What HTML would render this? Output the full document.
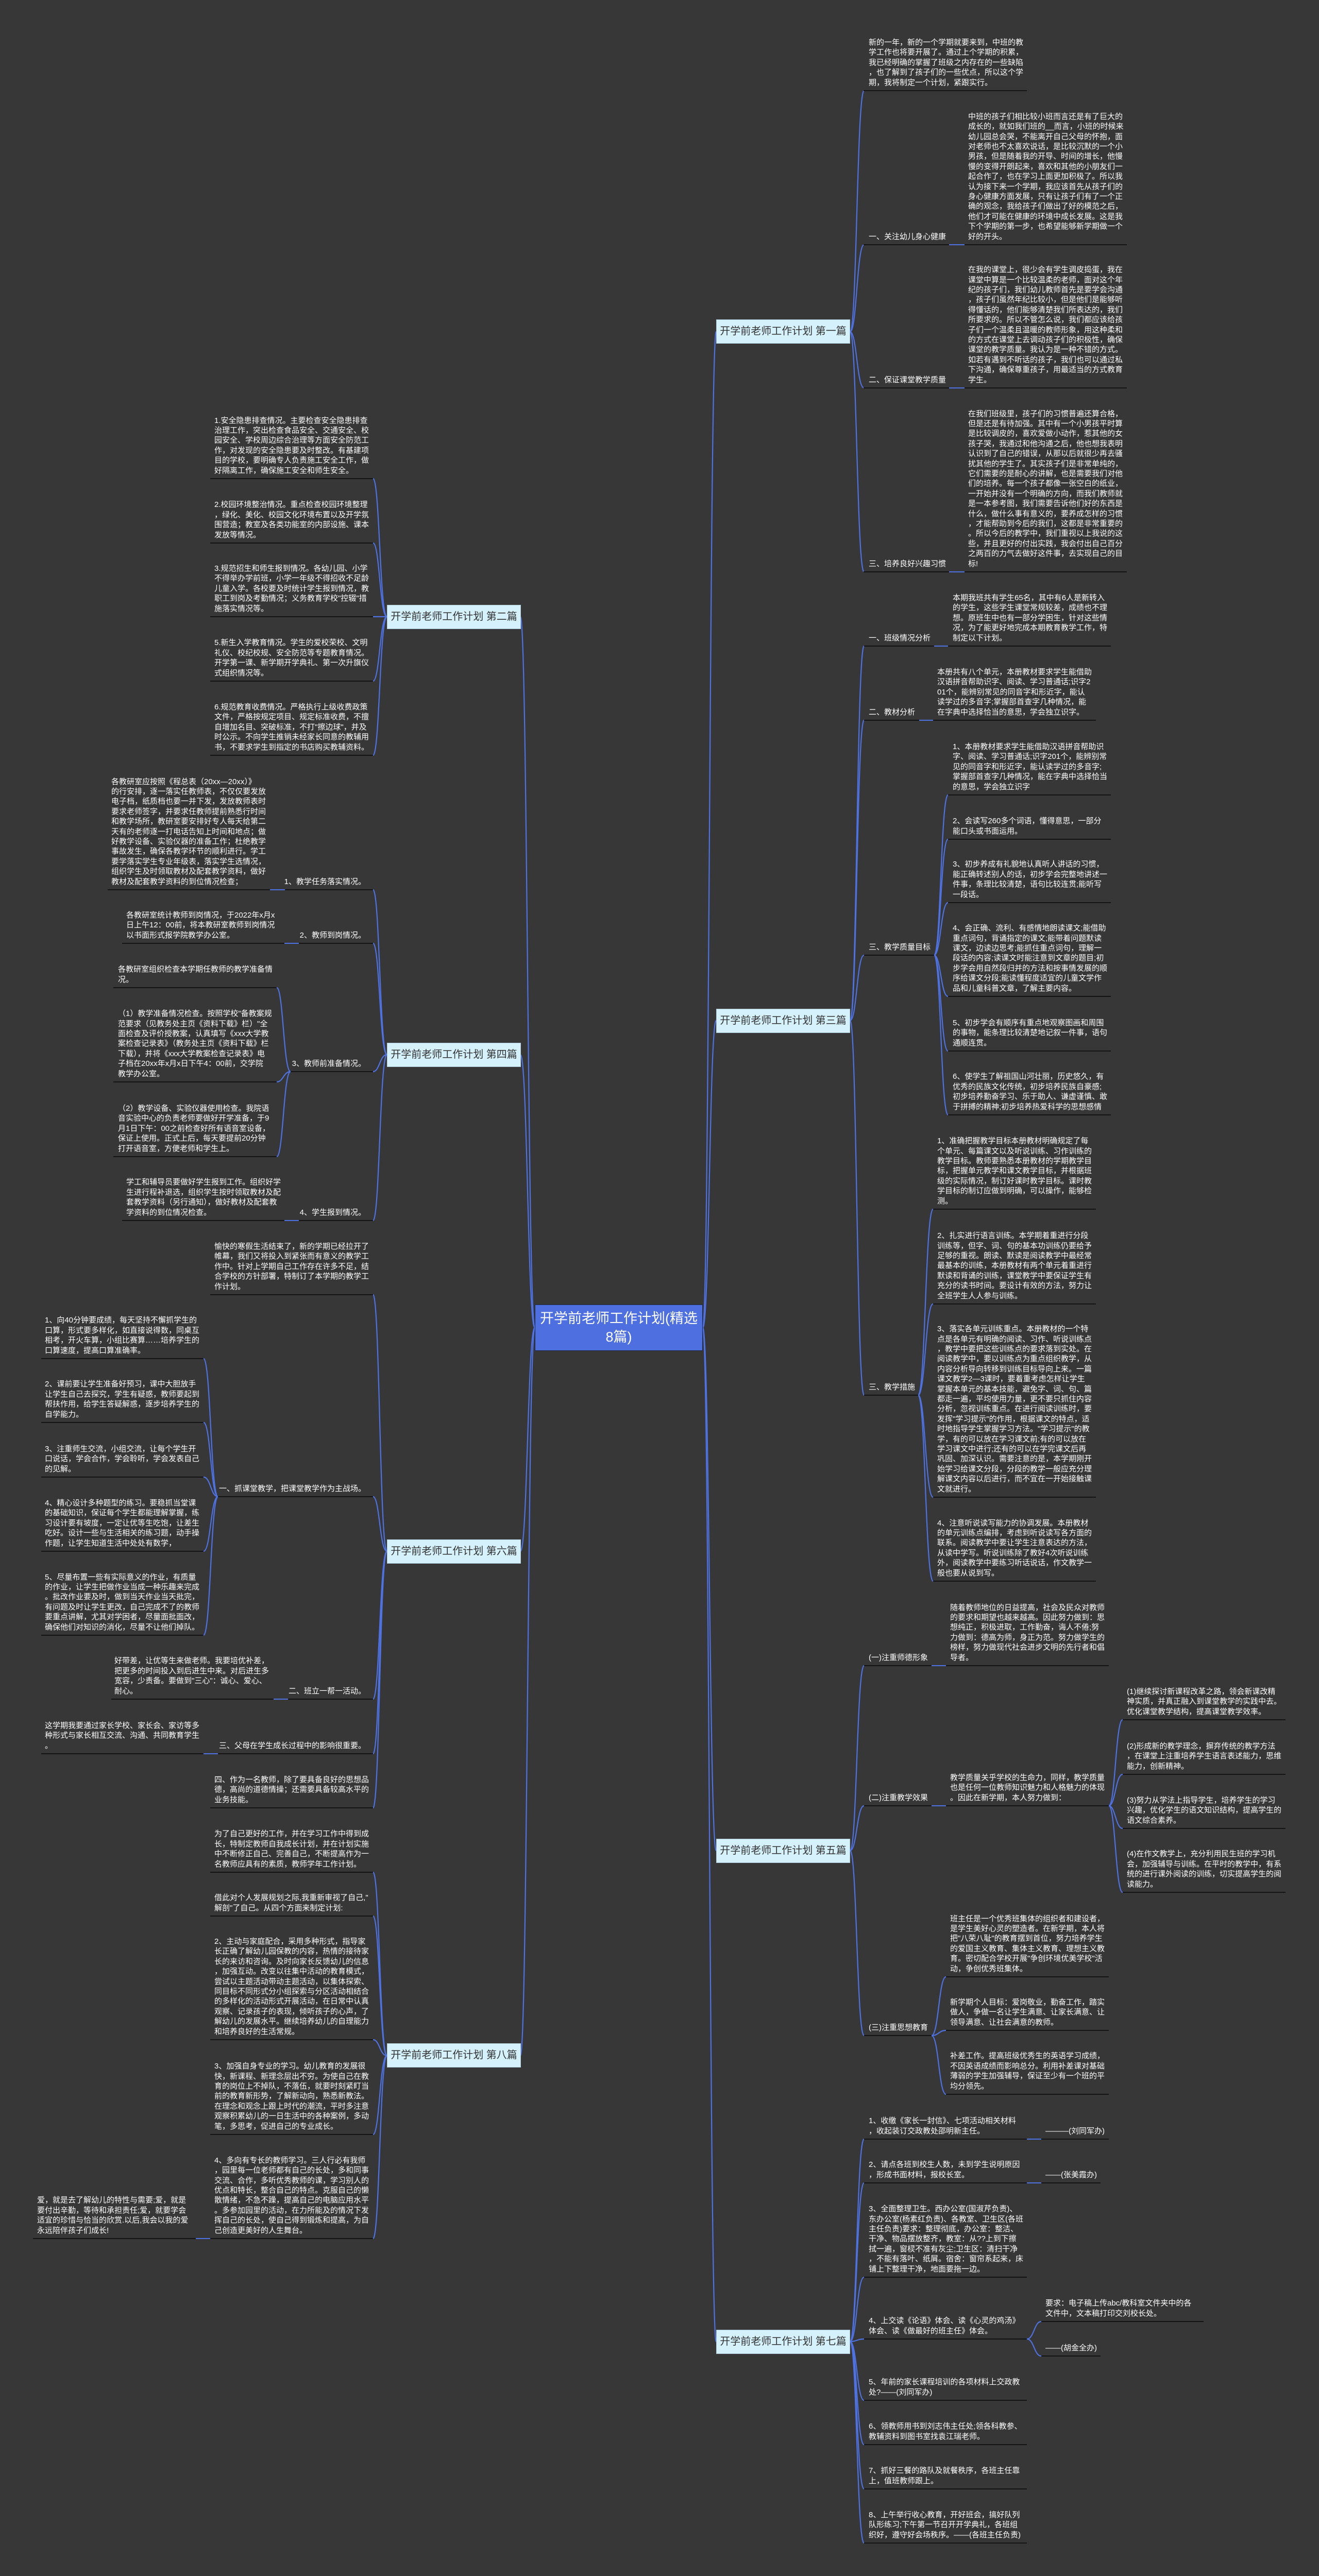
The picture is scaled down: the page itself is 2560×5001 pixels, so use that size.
<!DOCTYPE html>
<html><head><meta charset="utf-8">
<style>
*{margin:0;padding:0;box-sizing:border-box}
html{width:2560px;height:5001px;overflow:hidden}
body{width:2560px;height:5001px;background:#373737;position:relative;overflow:hidden;font-family:"Liberation Sans","Noto Sans CJK SC",sans-serif}
.t{position:absolute;color:#fff;font-size:15px;line-height:19.4px;white-space:nowrap}
.r{text-align:right}
.u{position:absolute;height:2px;background:#141414}
.b{position:absolute;height:2px;background:#4f72e3}
.box{position:absolute;background:#d4f1fc;border:1px solid #aac8d8;color:#333;font-size:20px;line-height:45px;text-align:center;white-space:nowrap;width:260px;height:47px;overflow:hidden}
.root{position:absolute;left:1038px;top:2532px;width:326px;height:90px;background:#4d6fe0;border:1px solid #1d2a50;color:#fff;font-size:27px;line-height:36px;text-align:center;padding-top:8px}
svg{position:absolute;left:0;top:0}
</style></head><body>
<svg width="2560" height="5001" fill="none" stroke="#4f72e3" stroke-width="2.2">
<path d="M1364 2577 C1377 2577 1377 644 1390 644"/>
<path d="M1364 2577 C1377 2577 1377 1981 1390 1981"/>
<path d="M1364 2577 C1377 2577 1377 3592 1390 3592"/>
<path d="M1364 2577 C1377 2577 1377 4545 1390 4545"/>
<path d="M1038 2577 C1024 2577 1024 1197 1010 1197"/>
<path d="M1038 2577 C1024 2577 1024 2047 1010 2047"/>
<path d="M1038 2577 C1024 2577 1024 3011 1010 3011"/>
<path d="M1038 2577 C1024 2577 1024 3990 1010 3990"/>
<path d="M1650 644 C1663 644 1663 176 1677 176"/>
<path d="M1650 644 C1663 644 1663 475 1677 475"/>
<path d="M1650 644 C1663 644 1663 753 1677 753"/>
<path d="M1650 644 C1663 644 1663 1110 1677 1110"/>
<path d="M1650 1981 C1663 1981 1663 1254 1677 1254"/>
<path d="M1650 1981 C1663 1981 1663 1398 1677 1398"/>
<path d="M1650 1981 C1663 1981 1663 1854 1677 1854"/>
<path d="M1650 1981 C1663 1981 1663 2708 1677 2708"/>
<path d="M1813 1854 C1826 1854 1826 1543 1840 1543"/>
<path d="M1813 1854 C1826 1854 1826 1629 1840 1629"/>
<path d="M1813 1854 C1826 1854 1826 1752 1840 1752"/>
<path d="M1813 1854 C1826 1854 1826 1934 1840 1934"/>
<path d="M1813 1854 C1826 1854 1826 2040 1840 2040"/>
<path d="M1813 1854 C1826 1854 1826 2164 1840 2164"/>
<path d="M1782 2708 C1796 2708 1796 2347 1811 2347"/>
<path d="M1782 2708 C1796 2708 1796 2531 1811 2531"/>
<path d="M1782 2708 C1796 2708 1796 2906 1811 2906"/>
<path d="M1782 2708 C1796 2708 1796 3069 1811 3069"/>
<path d="M1650 3592 C1663 3592 1663 3233 1677 3233"/>
<path d="M1650 3592 C1663 3592 1663 3505 1677 3505"/>
<path d="M1650 3592 C1663 3592 1663 3951 1677 3951"/>
<path d="M2152 3505 C2165 3505 2165 3338 2179 3338"/>
<path d="M2152 3505 C2165 3505 2165 3444 2179 3444"/>
<path d="M2152 3505 C2165 3505 2165 3549 2179 3549"/>
<path d="M2152 3505 C2165 3505 2165 3673 2179 3673"/>
<path d="M1808 3951 C1822 3951 1822 3837 1836 3837"/>
<path d="M1808 3951 C1822 3951 1822 3941 1836 3941"/>
<path d="M1808 3951 C1822 3951 1822 4065 1836 4065"/>
<path d="M1650 4545 C1663 4545 1663 4152 1677 4152"/>
<path d="M1650 4545 C1663 4545 1663 4237 1677 4237"/>
<path d="M1650 4545 C1663 4545 1663 4420 1677 4420"/>
<path d="M1650 4545 C1663 4545 1663 4540 1677 4540"/>
<path d="M1650 4545 C1663 4545 1663 4659 1677 4659"/>
<path d="M1650 4545 C1663 4545 1663 4745 1677 4745"/>
<path d="M1650 4545 C1663 4545 1663 4831 1677 4831"/>
<path d="M1650 4545 C1663 4545 1663 4936 1677 4936"/>
<path d="M1993 4540 C2007 4540 2007 4506 2021 4506"/>
<path d="M1993 4540 C2007 4540 2007 4573 2021 4573"/>
<path d="M751 1197 C737 1197 737 929 724 929"/>
<path d="M751 1197 C737 1197 737 1054 724 1054"/>
<path d="M751 1197 C737 1197 737 1197 724 1197"/>
<path d="M751 1197 C737 1197 737 1322 724 1322"/>
<path d="M751 1197 C737 1197 737 1466 724 1466"/>
<path d="M751 2047 C737 2047 737 1727 724 1727"/>
<path d="M751 2047 C737 2047 737 1831 724 1831"/>
<path d="M751 2047 C737 2047 737 2080 724 2080"/>
<path d="M751 2047 C737 2047 737 2369 724 2369"/>
<path d="M564 2080 C550 2080 550 1917 537 1917"/>
<path d="M564 2080 C550 2080 550 2100 537 2100"/>
<path d="M564 2080 C550 2080 550 2245 537 2245"/>
<path d="M751 3011 C737 3011 737 2513 724 2513"/>
<path d="M751 3011 C737 3011 737 2905 724 2905"/>
<path d="M751 3011 C737 3011 737 3298 724 3298"/>
<path d="M751 3011 C737 3011 737 3404 724 3404"/>
<path d="M751 3011 C737 3011 737 3509 724 3509"/>
<path d="M423 2905 C409 2905 409 2637 395 2637"/>
<path d="M423 2905 C409 2905 409 2761 395 2761"/>
<path d="M423 2905 C409 2905 409 2867 395 2867"/>
<path d="M423 2905 C409 2905 409 3011 395 3011"/>
<path d="M423 2905 C409 2905 409 3174 395 3174"/>
<path d="M751 3990 C737 3990 737 3634 724 3634"/>
<path d="M751 3990 C737 3990 737 3719 724 3719"/>
<path d="M751 3990 C737 3990 737 3959 724 3959"/>
<path d="M751 3990 C737 3990 737 4143 724 4143"/>
<path d="M751 3990 C737 3990 737 4345 724 4345"/>
</svg>

<div class="root">开学前老师工作计划(精选<br>8篇)</div>

<div class="box" style="left:1390px;top:620px">开学前老师工作计划 第一篇</div>
<div class="box" style="left:1390px;top:1958px">开学前老师工作计划 第三篇</div>
<div class="box" style="left:1390px;top:3569px">开学前老师工作计划 第五篇</div>
<div class="box" style="left:1390px;top:4522px">开学前老师工作计划 第七篇</div>
<div class="box" style="left:751px;top:1174px">开学前老师工作计划 第二篇</div>
<div class="box" style="left:751px;top:2024px">开学前老师工作计划 第四篇</div>
<div class="box" style="left:751px;top:2988px">开学前老师工作计划 第六篇</div>
<div class="box" style="left:751px;top:3966px">开学前老师工作计划 第八篇</div>

<div class="t" style="left:1686px;bottom:4831px">新的一年，新的一个学期就要来到，中班的教<br>学工作也将要开展了。通过上个学期的积累，<br>我已经明确的掌握了班级之内存在的一些缺陷<br>，也了解到了孩子们的一些优点，所以这个学<br>期，我将制定一个计划，紧跟实行。</div>
<div class="u" style="left:1676px;top:175px;width:317px"></div>

<div class="t" style="left:1686px;bottom:4532px">一、关注幼儿身心健康</div>
<div class="u" style="left:1676px;top:474px;width:166px"></div>
<div class="b" style="left:1842px;top:474px;width:30px"></div>
<div class="t" style="left:1879px;bottom:4532px">中班的孩子们相比较小班而言还是有了巨大的<br>成长的，就如我们班的__而言，小班的时候来<br>幼儿园总会哭，不能离开自己父母的怀抱，面<br>对老师也不太喜欢说话，是比较沉默的一个小<br>男孩，但是随着我的开导、时间的增长，他慢<br>慢的变得开朗起来，喜欢和其他的小朋友们一<br>起合作了，也在学习上面更加积极了。所以我<br>认为接下来一个学期，我应该首先从孩子们的<br>身心健康方面发展，只有让孩子们有了一个正<br>确的观念，我给孩子们做出了好的模范之后，<br>他们才可能在健康的环境中成长发展。这是我<br>下个学期的第一步，也希望能够新学期做一个<br>好的开头。</div>
<div class="u" style="left:1872px;top:474px;width:315px"></div>

<div class="t" style="left:1686px;bottom:4254px">二、保证课堂教学质量</div>
<div class="u" style="left:1676px;top:752px;width:166px"></div>
<div class="b" style="left:1842px;top:752px;width:30px"></div>
<div class="t" style="left:1879px;bottom:4254px">在我的课堂上，很少会有学生调皮捣蛋，我在<br>课堂中算是一个比较温柔的老师，面对这个年<br>纪的孩子们，我们幼儿教师首先是要学会沟通<br>，孩子们虽然年纪比较小，但是他们是能够听<br>得懂话的，他们能够清楚我们所表达的，我们<br>所要求的。所以不管怎么说，我们都应该给孩<br>子们一个温柔且温暖的教师形象，用这种柔和<br>的方式在课堂上去调动孩子们的积极性，确保<br>课堂的教学质量。我认为是一种不错的方式。<br>如若有遇到不听话的孩子，我们也可以通过私<br>下沟通，确保尊重孩子，用最适当的方式教育<br>学生。</div>
<div class="u" style="left:1872px;top:752px;width:315px"></div>

<div class="t" style="left:1686px;bottom:3897px">三、培养良好兴趣习惯</div>
<div class="u" style="left:1676px;top:1109px;width:166px"></div>
<div class="b" style="left:1842px;top:1109px;width:30px"></div>
<div class="t" style="left:1879px;bottom:3897px">在我们班级里，孩子们的习惯普遍还算合格，<br>但是还是有待加强。其中有一个小男孩平时算<br>是比较调皮的，喜欢爱做小动作，惹其他的女<br>孩子哭，我通过和他沟通之后，他也想我表明<br>认识到了自己的错误，从那以后就很少再去骚<br>扰其他的学生了。其实孩子们是非常单纯的，<br>它们需要的是耐心的讲解，也是需要我们对他<br>们的培养。每一个孩子都像一张空白的纸业，<br>一开始并没有一个明确的方向，而我们教师就<br>是一本参考图，我们需要告诉他们好的东西是<br>什么，做什么事有意义的，要养成怎样的习惯<br>，才能帮助到今后的我们，这都是非常重要的<br>。所以今后的教学中，我们重视以上我说的这<br>些，并且更好的付出实践，我会付出自己百分<br>之两百的力气去做好这件事，去实现自己的目<br>标!</div>
<div class="u" style="left:1872px;top:1109px;width:315px"></div>

<div class="t" style="left:1686px;bottom:3753px">一、班级情况分析</div>
<div class="u" style="left:1677px;top:1253px;width:136px"></div>
<div class="b" style="left:1813px;top:1253px;width:27px"></div>
<div class="t" style="left:1849px;bottom:3753px">本期我班共有学生65名，其中有6人是新转入<br>的学生，这些学生课堂常规较差，成绩也不理<br>想。原班生中也有一部分学困生，针对这些情<br>况，为了能更好地完成本期教育教学工作，特<br>制定以下计划。</div>
<div class="u" style="left:1840px;top:1253px;width:316px"></div>

<div class="t" style="left:1686px;bottom:3609px">二、教材分析</div>
<div class="u" style="left:1677px;top:1397px;width:107px"></div>
<div class="b" style="left:1784px;top:1397px;width:27px"></div>
<div class="t" style="left:1819px;bottom:3609px">本册共有八个单元，本册教材要求学生能借助<br>汉语拼音帮助识字、阅读、学习普通话;识字2<br>01个，能辨别常见的同音字和形近字，能认<br>读学过的多音字;掌握部首查字几种情况，能<br>在字典中选择恰当的意思，学会独立识字。</div>
<div class="u" style="left:1811px;top:1397px;width:316px"></div>

<div class="t" style="left:1686px;bottom:3153px">三、教学质量目标</div>
<div class="u" style="left:1677px;top:1853px;width:136px"></div>
<div class="t" style="left:1849px;bottom:3464px">1、本册教材要求学生能借助汉语拼音帮助识<br>字、阅读、学习普通话;识字201个，能辨别常<br>见的同音字和形近字，能认读学过的多音字;<br>掌握部首查字几种情况，能在字典中选择恰当<br>的意思，学会独立识字</div>
<div class="u" style="left:1840px;top:1542px;width:316px"></div>
<div class="t" style="left:1849px;bottom:3378px">2、会读写260多个词语，懂得意思，一部分<br>能口头或书面运用。</div>
<div class="u" style="left:1840px;top:1628px;width:316px"></div>
<div class="t" style="left:1849px;bottom:3255px">3、初步养成有礼貌地认真听人讲话的习惯，<br>能正确转述别人的话，初步学会完整地讲述一<br>件事，条理比较清楚，语句比较连贯;能听写<br>一段话。</div>
<div class="u" style="left:1840px;top:1751px;width:316px"></div>
<div class="t" style="left:1849px;bottom:3073px">4、会正确、流利、有感情地朗读课文;能借助<br>重点词句，背诵指定的课文;能带着问题默读<br>课文，边读边思考;能抓住重点词句，理解一<br>段话的内容;读课文时能注意到文章的题目;初<br>步学会用自然段归并的方法和按事情发展的顺<br>序给课文分段;能读懂程度适宜的儿童文学作<br>品和儿童科普文章，了解主要内容。</div>
<div class="u" style="left:1840px;top:1933px;width:316px"></div>
<div class="t" style="left:1849px;bottom:2967px">5、初步学会有顺序有重点地观察图画和周围<br>的事物，能条理比较清楚地记叙一件事，语句<br>通顺连贯。</div>
<div class="u" style="left:1840px;top:2039px;width:316px"></div>
<div class="t" style="left:1849px;bottom:2843px">6、使学生了解祖国山河壮丽，历史悠久，有<br>优秀的民族文化传统，初步培养民族自豪感;<br>初步培养勤奋学习、乐于助人、谦虚谨慎、敢<br>于拼搏的精神;初步培养热爱科学的思想感情</div>
<div class="u" style="left:1840px;top:2163px;width:316px"></div>

<div class="t" style="left:1686px;bottom:2299px">三、教学措施</div>
<div class="u" style="left:1677px;top:2707px;width:105px"></div>
<div class="t" style="left:1819px;bottom:2660px">1、准确把握教学目标本册教材明确规定了每<br>个单元、每篇课文以及听说训练、习作训练的<br>教学目标。教师要熟悉本册教材的学期教学目<br>标，把握单元教学和课文教学目标，并根据班<br>级的实际情况，制订好课时教学目标。课时教<br>学目标的制订应做到明确，可以操作，能够检<br>测。</div>
<div class="u" style="left:1811px;top:2346px;width:316px"></div>
<div class="t" style="left:1819px;bottom:2476px">2、扎实进行语言训练。本学期着重进行分段<br>训练等，但字、词、句的基本功训练仍要给予<br>足够的重视。朗读、默读是阅读教学中最经常<br>最基本的训练，本册教材有两个单元着重进行<br>默读和背诵的训练，课堂教学中要保证学生有<br>充分的读书时间。要设计有效的方法，努力让<br>全班学生人人参与训练。</div>
<div class="u" style="left:1811px;top:2530px;width:316px"></div>
<div class="t" style="left:1819px;bottom:2101px">3、落实各单元训练重点。本册教材的一个特<br>点是各单元有明确的阅读、习作、听说训练点<br>，教学中要把这些训练点的要求落到实处。在<br>阅读教学中，要以训练点为重点组织教学，从<br>内容分析导向转移到训练目标导向上来。一篇<br>课文教学2—3课时，要着重考虑怎样让学生<br>掌握本单元的基本技能，避免字、词、句、篇<br>都走一遍，平均使用力量，更不要只抓住内容<br>分析，忽视训练重点。在进行阅读训练时，要<br>发挥"学习提示"的作用，根据课文的特点，适<br>时地指导学生掌握学习方法。"学习提示"的教<br>学，有的可以放在学习课文前;有的可以放在<br>学习课文中进行;还有的可以在学完课文后再<br>巩固、加深认识。需要注意的是，本学期刚开<br>始学习给课文分段，分段的教学一般应充分理<br>解课文内容以后进行，而不宜在一开始接触课<br>文就进行。</div>
<div class="u" style="left:1811px;top:2905px;width:316px"></div>
<div class="t" style="left:1819px;bottom:1938px">4、注意听说读写能力的协调发展。本册教材<br>的单元训练点编排，考虑到听说读写各方面的<br>联系。阅读教学中要让学生注意表达的方法，<br>从读中学写。听说训练除了教好4次听说训练<br>外，阅读教学中要练习听话说话，作文教学一<br>般也要从说到写。</div>
<div class="u" style="left:1811px;top:3068px;width:316px"></div>

<div class="t" style="left:1686px;bottom:1774px">(一)注重师德形象</div>
<div class="u" style="left:1677px;top:3232px;width:131px"></div>
<div class="b" style="left:1808px;top:3232px;width:28px"></div>
<div class="t" style="left:1844px;bottom:1774px">随着教师地位的日益提高，社会及民众对教师<br>的要求和期望也越来越高。因此努力做到：思<br>想纯正，积极进取，工作勤奋，诲人不倦;努<br>力做到：德高为师，身正为范。努力做学生的<br>榜样，努力做现代社会进步文明的先行者和倡<br>导者。</div>
<div class="u" style="left:1836px;top:3232px;width:316px"></div>

<div class="t" style="left:1686px;bottom:1502px">(二)注重教学效果</div>
<div class="u" style="left:1677px;top:3504px;width:131px"></div>
<div class="b" style="left:1808px;top:3504px;width:28px"></div>
<div class="t" style="left:1844px;bottom:1502px">教学质量关乎学校的生命力，同样，教学质量<br>也是任何一位教师知识魅力和人格魅力的体现<br>。因此在新学期，本人努力做到：</div>
<div class="u" style="left:1836px;top:3504px;width:316px"></div>
<div class="t" style="left:2187px;bottom:1669px">(1)继续探讨新课程改革之路，领会新课改精<br>神实质，并真正融入到课堂教学的实践中去。<br>优化课堂教学结构，提高课堂教学效率。</div>
<div class="u" style="left:2179px;top:3337px;width:316px"></div>
<div class="t" style="left:2187px;bottom:1563px">(2)形成新的教学理念，摒弃传统的教学方法<br>，在课堂上注重培养学生语言表述能力，思维<br>能力，创新精神。</div>
<div class="u" style="left:2179px;top:3443px;width:316px"></div>
<div class="t" style="left:2187px;bottom:1458px">(3)努力从学法上指导学生，培养学生的学习<br>兴趣，优化学生的语文知识结构，提高学生的<br>语文综合素养。</div>
<div class="u" style="left:2179px;top:3548px;width:316px"></div>
<div class="t" style="left:2187px;bottom:1334px">(4)在作文教学上，充分利用民生班的学习机<br>会，加强辅导与训练。在平时的教学中，有系<br>统的进行课外阅读的训练，切实提高学生的阅<br>读能力。</div>
<div class="u" style="left:2179px;top:3672px;width:316px"></div>

<div class="t" style="left:1686px;bottom:1056px">(三)注重思想教育</div>
<div class="u" style="left:1677px;top:3950px;width:131px"></div>
<div class="t" style="left:1844px;bottom:1170px">班主任是一个优秀班集体的组织者和建设者，<br>是学生美好心灵的塑造者。在新学期，本人将<br>把"八荣八耻"的教育摆到首位，努力培养学生<br>的爱国主义教育、集体主义教育、理想主义教<br>育。密切配合学校开展"争创环境优美学校"活<br>动，争创优秀班集体。</div>
<div class="u" style="left:1836px;top:3836px;width:316px"></div>
<div class="t" style="left:1844px;bottom:1066px">新学期个人目标：爱岗敬业，勤奋工作，踏实<br>做人，争做一名让学生满意、让家长满意、让<br>领导满意、让社会满意的教师。</div>
<div class="u" style="left:1836px;top:3940px;width:316px"></div>
<div class="t" style="left:1844px;bottom:942px">补差工作。提高班级优秀生的英语学习成绩，<br>不因英语成绩而影响总分。利用补差课对基础<br>薄弱的学生加强辅导，保证至少有一个班的平<br>均分领先。</div>
<div class="u" style="left:1836px;top:4064px;width:316px"></div>

<div class="t" style="left:1686px;bottom:855px">1、收缴《家长一封信》、七项活动相关材料<br>，收起装订交政教处邵明新主任。</div>
<div class="u" style="left:1677px;top:4151px;width:316px"></div>
<div class="b" style="left:1993px;top:4151px;width:28px"></div>
<div class="t" style="left:2029px;bottom:855px">———(刘同军办)</div>
<div class="u" style="left:2021px;top:4151px;width:131px"></div>

<div class="t" style="left:1686px;bottom:770px">2、请点各班到校生人数，未到学生说明原因<br>，形成书面材料，报校长室。</div>
<div class="u" style="left:1677px;top:4236px;width:316px"></div>
<div class="b" style="left:1993px;top:4236px;width:28px"></div>
<div class="t" style="left:2029px;bottom:770px">——(张美霞办)</div>
<div class="u" style="left:2021px;top:4236px;width:115px"></div>

<div class="t" style="left:1686px;bottom:587px">3、全面整理卫生。西办公室(国淑芹负责)、<br>东办公室(杨素红负责)、各教室、卫生区(各班<br>主任负责)要求：整理彻底，办公室：整洁、<br>干净、物品摆放整齐，教室：从??上到下擦<br>拭一遍，窗棂不准有灰尘;卫生区：清扫干净<br>，不能有落叶、纸屑。宿舍：窗帘系起来，床<br>铺上下整理干净，地面要拖一边。</div>
<div class="u" style="left:1677px;top:4419px;width:316px"></div>

<div class="t" style="left:1686px;bottom:467px">4、上交读《论语》体会、读《心灵的鸡汤》<br>体会、读《做最好的班主任》体会。</div>
<div class="u" style="left:1677px;top:4539px;width:316px"></div>
<div class="t" style="left:2029px;bottom:501px">要求：电子稿上传abc/教科室文件夹中的各<br>文件中，文本稿打印交刘校长处。</div>
<div class="u" style="left:2021px;top:4505px;width:315px"></div>
<div class="t" style="left:2029px;bottom:434px">——(胡金全办)</div>
<div class="u" style="left:2021px;top:4572px;width:115px"></div>

<div class="t" style="left:1686px;bottom:348px">5、年前的家长课程培训的各项材料上交政教<br>处?——(刘同军办)</div>
<div class="u" style="left:1677px;top:4658px;width:316px"></div>
<div class="t" style="left:1686px;bottom:262px">6、领教师用书到刘志伟主任处;领各科教参、<br>教辅资料到图书室找袁江瑞老师。</div>
<div class="u" style="left:1677px;top:4744px;width:316px"></div>
<div class="t" style="left:1686px;bottom:176px">7、抓好三餐的路队及就餐秩序，各班主任靠<br>上，值班教师跟上。</div>
<div class="u" style="left:1677px;top:4830px;width:316px"></div>
<div class="t" style="left:1686px;bottom:71px">8、上午举行收心教育，开好班会，搞好队列<br>队形练习;下午第一节召开开学典礼，各班组<br>织好，遵守好会场秩序。——(各班主任负责)</div>
<div class="u" style="left:1677px;top:4935px;width:316px"></div>

<div class="t" style="left:416px;bottom:4078px">1.安全隐患排查情况。主要检查安全隐患排查<br>治理工作，突出检查食品安全、交通安全、校<br>园安全、学校周边综合治理等方面安全防范工<br>作，对发现的安全隐患要及时整改。有基建项<br>目的学校，要明确专人负责施工安全工作，做<br>好隔离工作，确保施工安全和师生安全。</div>
<div class="u" style="left:408px;top:928px;width:316px"></div>
<div class="t" style="left:416px;bottom:3953px">2.校园环境整治情况。重点检查校园环境整理<br>，绿化、美化、校园文化环境布置以及开学氛<br>围营造；教室及各类功能室的内部设施、课本<br>发放等情况。</div>
<div class="u" style="left:408px;top:1053px;width:316px"></div>
<div class="t" style="left:416px;bottom:3810px">3.规范招生和师生报到情况。各幼儿园、小学<br>不得举办学前班，小学一年级不得招收不足龄<br>儿童入学。各校要及时统计学生报到情况，教<br>职工到岗及考勤情况；义务教育学校"控辍"措<br>施落实情况等。</div>
<div class="u" style="left:408px;top:1196px;width:316px"></div>
<div class="t" style="left:416px;bottom:3685px">5.新生入学教育情况。学生的爱校荣校、文明<br>礼仪、校纪校规、安全防范等专题教育情况。<br>开学第一课、新学期开学典礼、第一次升旗仪<br>式组织情况等。</div>
<div class="u" style="left:408px;top:1321px;width:316px"></div>
<div class="t" style="left:416px;bottom:3541px">6.规范教育收费情况。严格执行上级收费政策<br>文件，严格按规定项目、规定标准收费，不擅<br>自增加名目、突破标准，不打"擦边球"，并及<br>时公示。不向学生推销未经家长同意的教辅用<br>书，不要求学生到指定的书店购买教辅资料。</div>
<div class="u" style="left:408px;top:1465px;width:316px"></div>

<div class="t r" style="right:1850px;bottom:3280px">1、教学任务落实情况。</div>
<div class="u" style="left:553px;top:1726px;width:171px"></div>
<div class="b" style="left:524px;top:1726px;width:29px"></div>
<div class="t" style="left:216px;bottom:3280px">各教研室应按照《程总表（20xx—20xx）》<br>的行安排，逐一落实任教师表，不仅仅要发放<br>电子档，纸质档也要一并下发，发放教师表时<br>要求老师签字，并要求任教师提前熟悉行时间<br>和教学场所，教研室要安排好专人每天给第二<br>天有的老师逐一打电话告知上时间和地点；做<br>好教学设备、实验仪器的准备工作；杜绝教学<br>事故发生，确保各教学环节的顺利进行。学工<br>要学落实学生专业年级表，落实学生选情况，<br>组织学生及时领取教材及配套教学资料，做好<br>教材及配套教学资料的到位情况检查；</div>
<div class="u" style="left:209px;top:1726px;width:315px"></div>

<div class="t r" style="right:1850px;bottom:3176px">2、教师到岗情况。</div>
<div class="u" style="left:580px;top:1830px;width:144px"></div>
<div class="b" style="left:552px;top:1830px;width:28px"></div>
<div class="t" style="left:245px;bottom:3176px">各教研室统计教师到岗情况，于2022年x月x<br>日上午12：00前，将本教研室教师到岗情况<br>以书面形式报学院教学办公室。</div>
<div class="u" style="left:237px;top:1830px;width:315px"></div>

<div class="t r" style="right:1850px;bottom:2927px">3、教师前准备情况。</div>
<div class="u" style="left:564px;top:2079px;width:160px"></div>
<div class="t" style="left:229px;bottom:3090px">各教研室组织检查本学期任教师的教学准备情<br>况。</div>
<div class="u" style="left:220px;top:1916px;width:317px"></div>
<div class="t" style="left:229px;bottom:2907px">（1）教学准备情况检查。按照学校"备教案规<br>范要求（见教务处主页《资料下载》栏）"全<br>面检查及评价授教案，认真填写《xxx大学教<br>案检查记录表》（教务处主页《资料下载》栏<br>下载），并将《xxx大学教案检查记录表》电<br>子档在20xx年x月x日下午4：00前，交学院<br>教学办公室。</div>
<div class="u" style="left:220px;top:2099px;width:317px"></div>
<div class="t" style="left:229px;bottom:2762px">（2）教学设备、实验仪器使用检查。我院语<br>音实验中心的负责老师要做好开学准备，于9<br>月1日下午：00之前检查好所有语音室设备，<br>保证上使用。正式上后，每天要提前20分钟<br>打开语音室，方便老师和学生上。</div>
<div class="u" style="left:220px;top:2244px;width:317px"></div>

<div class="t r" style="right:1850px;bottom:2638px">4、学生报到情况。</div>
<div class="u" style="left:580px;top:2368px;width:144px"></div>
<div class="b" style="left:552px;top:2368px;width:28px"></div>
<div class="t" style="left:245px;bottom:2638px">学工和辅导员要做好学生报到工作。组织好学<br>生进行程补退选，组织学生按时领取教材及配<br>套教学资料（另行通知），做好教材及配套教<br>学资料的到位情况检查。</div>
<div class="u" style="left:237px;top:2368px;width:315px"></div>

<div class="t" style="left:416px;bottom:2494px">愉快的寒假生活结束了，新的学期已经拉开了<br>帷幕，我们又将投入到紧张而有意义的教学工<br>作中。针对上学期自己工作存在许多不足，结<br>合学校的方针部署，特制订了本学期的教学工<br>作计划。</div>
<div class="u" style="left:408px;top:2512px;width:316px"></div>

<div class="t r" style="right:1850px;bottom:2102px">一、抓课堂教学，把课堂教学作为主战场。</div>
<div class="u" style="left:423px;top:2904px;width:301px"></div>
<div class="t" style="left:87px;bottom:2370px">1、向40分钟要成绩，每天坚持不懈抓学生的<br>口算，形式要多样化，如直接说得数，同桌互<br>相考，开火车算，小组比赛算……培养学生的<br>口算速度，提高口算准确率。</div>
<div class="u" style="left:80px;top:2636px;width:315px"></div>
<div class="t" style="left:87px;bottom:2246px">2、课前要让学生准备好预习，课中大胆放手<br>让学生自己去探究，学生有疑惑，教师要起到<br>帮扶作用，给学生答疑解惑，逐步培养学生的<br>自学能力。</div>
<div class="u" style="left:80px;top:2760px;width:315px"></div>
<div class="t" style="left:87px;bottom:2140px">3、注重师生交流，小组交流，让每个学生开<br>口说话，学会合作，学会聆听，学会发表自己<br>的见解。</div>
<div class="u" style="left:80px;top:2866px;width:315px"></div>
<div class="t" style="left:87px;bottom:1996px">4、精心设计多种题型的练习。要稳抓当堂课<br>的基础知识，保证每个学生都能理解掌握，练<br>习设计要有坡度，一定让优等生吃饱，让差生<br>吃好。设计一些与生活相关的练习题，动手操<br>作题，让学生知道生活中处处有数学，</div>
<div class="u" style="left:80px;top:3010px;width:315px"></div>
<div class="t" style="left:87px;bottom:1833px">5、尽量布置一些有实际意义的作业，有质量<br>的作业，让学生把做作业当成一种乐趣来完成<br>。批改作业要及时，做到当天作业当天批完，<br>有问题及时让学生更改，自己完成不了的教师<br>要重点讲解，尤其对学困者，尽量面批面改，<br>确保他们对知识的消化，尽量不让他们掉队。</div>
<div class="u" style="left:80px;top:3173px;width:315px"></div>

<div class="t r" style="right:1850px;bottom:1709px">二、班立一帮一活动。</div>
<div class="u" style="left:559px;top:3297px;width:165px"></div>
<div class="b" style="left:531px;top:3297px;width:28px"></div>
<div class="t" style="left:222px;bottom:1709px">好带差，让优等生来做老师。我要培优补差，<br>把更多的时间投入到后进生中来。对后进生多<br>宽容，少责备。要做到"三心"：诚心、爱心、<br>耐心。</div>
<div class="u" style="left:216px;top:3297px;width:315px"></div>

<div class="t r" style="right:1850px;bottom:1603px">三、父母在学生成长过程中的影响很重要。</div>
<div class="u" style="left:423px;top:3403px;width:301px"></div>
<div class="b" style="left:395px;top:3403px;width:28px"></div>
<div class="t" style="left:87px;bottom:1603px">这学期我要通过家长学校、家长会、家访等多<br>种形式与家长相互交流、沟通、共同教育学生<br>。</div>
<div class="u" style="left:80px;top:3403px;width:315px"></div>

<div class="t" style="left:416px;bottom:1498px">四、作为一名教师，除了要具备良好的思想品<br>德，高尚的道德情操；还需要具备较高水平的<br>业务技能。</div>
<div class="u" style="left:408px;top:3508px;width:316px"></div>

<div class="t" style="left:416px;bottom:1373px">为了自己更好的工作，并在学习工作中得到成<br>长，特制定教师自我成长计划，并在计划实施<br>中不断修正自己、完善自己，不断提高作为一<br>名教师应具有的素质，教师学年工作计划。</div>
<div class="u" style="left:408px;top:3633px;width:316px"></div>
<div class="t" style="left:416px;bottom:1288px">借此对个人发展规划之际,我重新审视了自己,"<br>解剖"了自己。从四个方面来制定计划:</div>
<div class="u" style="left:408px;top:3718px;width:316px"></div>
<div class="t" style="left:416px;bottom:1048px">2、主动与家庭配合，采用多种形式，指导家<br>长正确了解幼儿园保教的内容，热情的接待家<br>长的来访和咨询。及时向家长反馈幼儿的信息<br>，加强互动。改变以往集中活动的教育模式，<br>尝试以主题活动带动主题活动，以集体探索、<br>同目标不同形式分小组探索与分区活动相结合<br>的多样化的活动形式开展活动，在日常中认真<br>观察、记录孩子的表现，倾听孩子的心声，了<br>解幼儿的发展水平。继续培养幼儿的自理能力<br>和培养良好的生活常规。</div>
<div class="u" style="left:408px;top:3958px;width:316px"></div>
<div class="t" style="left:416px;bottom:864px">3、加强自身专业的学习。幼儿教育的发展很<br>快，新课程、新理念层出不穷。为使自己在教<br>育的岗位上不掉队，不落伍，就要时刻紧盯当<br>前的教育新形势，了解新动向，熟悉新教法。<br>在理念和观念上跟上时代的潮流，平时多注意<br>观察积累幼儿的一日生活中的各种案例，多动<br>笔，多思考，促进自己的专业成长。</div>
<div class="u" style="left:408px;top:4142px;width:316px"></div>
<div class="t" style="left:416px;bottom:662px">4、多向有专长的教师学习。三人行必有我师<br>，园里每一位老师都有自己的长处，多和同事<br>交流、合作，多听优秀教师的课，学习别人的<br>优点和特长，整合自己的特点。克服自己的懒<br>散情绪，不急不躁，提高自己的电脑应用水平<br>。多参加园里的活动，在力所能及的情况下发<br>挥自己的长处，使自己得到锻炼和提高，为自<br>己创造更美好的人生舞台。</div>
<div class="u" style="left:408px;top:4344px;width:316px"></div>
<div class="b" style="left:380px;top:4344px;width:28px"></div>
<div class="t" style="left:72px;bottom:662px">爱，就是去了解幼儿的特性与需要;爱，就是<br>要付出辛勤，等待和承担责任;爱，就要学会<br>适宜的珍惜与恰当的欣赏.以后,我会以我的爱<br>永远陪伴孩子们成长!</div>
<div class="u" style="left:64px;top:4344px;width:316px"></div>

</body></html>
